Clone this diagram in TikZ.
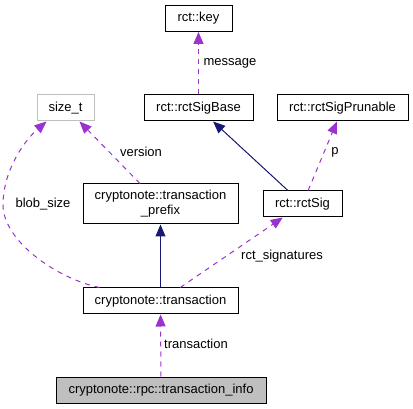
\documentclass[tikz,border=0pt]{standalone}
\usepackage{fontspec}
\setmainfont{Liberation Sans}
\usetikzlibrary{arrows.meta}
\definecolor{dox}{HTML}{9A32CD}
\definecolor{navy}{HTML}{191970}
\definecolor{grayb}{HTML}{BFBFBF}
\begin{document}
\begin{tikzpicture}[x=1pt, y=-1pt, line width=1pt, >={Triangle[length=12pt,width=10pt]},
    font=\fontsize{13}{15}\selectfont,
    cls/.style={draw=black, fill=white, minimum height=26pt, inner sep=2pt, align=center},
    use/.style={->, dox, dashed, dash pattern=on 5pt off 5pt},
    inherit/.style={->, navy},
    lbl/.style={inner sep=1pt}]
    \useasboundingbox (0,0) rectangle (413,409);
    % classes
    \node[cls, minimum width=67pt] (key) at (198.5,18.5) {rct::key};
    \node[cls, draw=grayb, minimum width=57pt] (sizet) at (65.5,108) {size\_t};
    \node[cls, minimum width=109pt] (sigbase) at (198.5,108) {rct::rctSigBase};
    \node[cls, minimum width=131pt] (prunable) at (342.5,108) {rct::rctSigPrunable};
    \node[cls, minimum width=155pt, minimum height=40pt] (prefix) at (160.5,204) {cryptonote::transaction\\\_prefix};
    \node[cls, minimum width=79pt] (rctsig) at (302.5,204) {rct::rctSig};
    \node[cls, minimum width=155pt] (trans) at (160.5,301) {cryptonote::transaction};
    \node[cls, fill=grayb, minimum width=210pt] (info) at (161,390) {cryptonote::rpc::transaction\_info};
    % inheritance
    \draw[inherit] (rctsig) -- (sigbase);
    \draw[inherit] (trans) -- (prefix);
    % members
    \draw[use] (sigbase) -- (key);
    \draw[use] (rctsig) -- (prunable);
    \draw[use] (prefix.north -| 140,0) -- ([xshift=14pt]sizet.south);
    \draw[use] ([xshift=17pt]trans.north west) .. controls (55,278) and (3,240) .. (3,205)
        .. controls (3,170) and (25,140) .. ([xshift=-19pt]sizet.south);
    \draw[use] (trans) -- (rctsig);
    \draw[use] (info) -- (trans);
    % labels
    \node[lbl] (lmessage) at (230,63) {message};
    \node[lbl] (lp) at (335,152) {p};
    \node[lbl] (lversion) at (141,152) {version};
    \node[lbl] (lblob) at (43,204) {blob\_size};
    \node[lbl] (lrct) at (282,256) {rct\_signatures};
    \node[lbl] (ltrans) at (196,344) {transaction};
\end{tikzpicture}
\end{document}
